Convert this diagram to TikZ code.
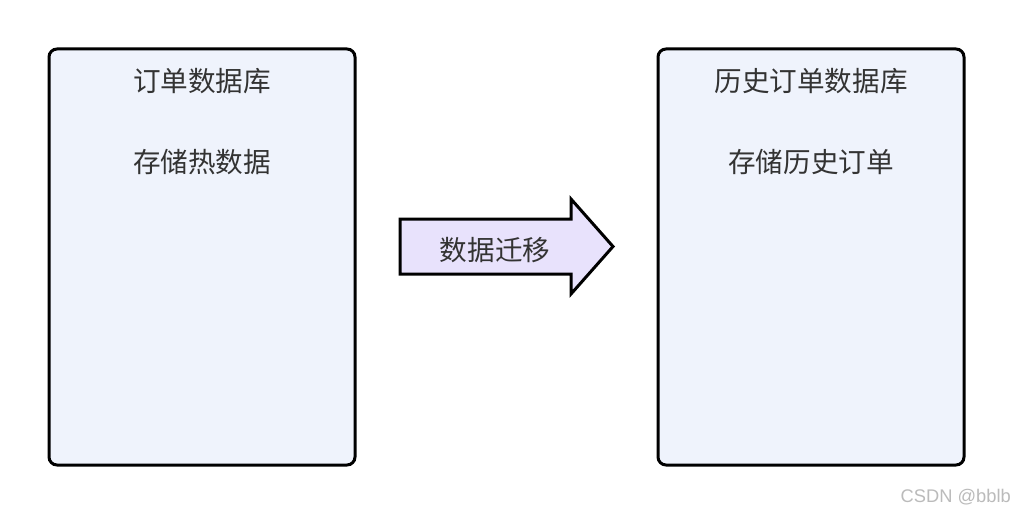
\documentclass[tikz,border=0pt]{standalone}
\usepackage{fontspec}
\newfontfamily\cjk{Noto Sans CJK SC}
\newfontfamily\wm{Liberation Sans}
\definecolor{boxfill}{HTML}{EFF3FC}
\definecolor{arrowfill}{HTML}{E8E2FC}
\definecolor{txt}{HTML}{333333}
\definecolor{wmgray}{HTML}{BBBBBB}
\tikzset{
  dbbox/.style={draw=black, line width=3pt, rounded corners=8pt, fill=boxfill},
  lbl/.style={text=txt, font=\cjk\fontsize{27.6}{32}\selectfont, inner sep=0pt, anchor=center},
  migr/.style={draw=black, line width=3pt, fill=arrowfill, line join=miter},
}
\begin{document}
\begin{tikzpicture}[x=1pt,y=-1pt]
\useasboundingbox (0,0) rectangle (1014,516);
\fill[white] (0,0) rectangle (1014,516);
% boxes
\draw[dbbox] (49,49) rectangle (355,465);
\draw[dbbox] (658,49) rectangle (964,465);
\node[lbl] (t1) at (202,81) {订单数据库};
\node[lbl] (s1) at (202,162) {存储热数据};
\node[lbl] (t2) at (811,81) {历史订单数据库};
\node[lbl] (s2) at (811,162) {存储历史订单};
% arrow
\draw[migr] (400,219) -- (571,219) -- (571,199) -- (613,246.5) -- (571,294) -- (571,274) -- (400,274) -- cycle;
\node[lbl] (m) at (495,250) {数据迁移};
% watermark
\node[text=wmgray, font=\wm\fontsize{18.3}{22}\selectfont, inner sep=0pt, anchor=east] (w) at (1011,497) {CSDN @bblb};
\end{tikzpicture}
\end{document}
